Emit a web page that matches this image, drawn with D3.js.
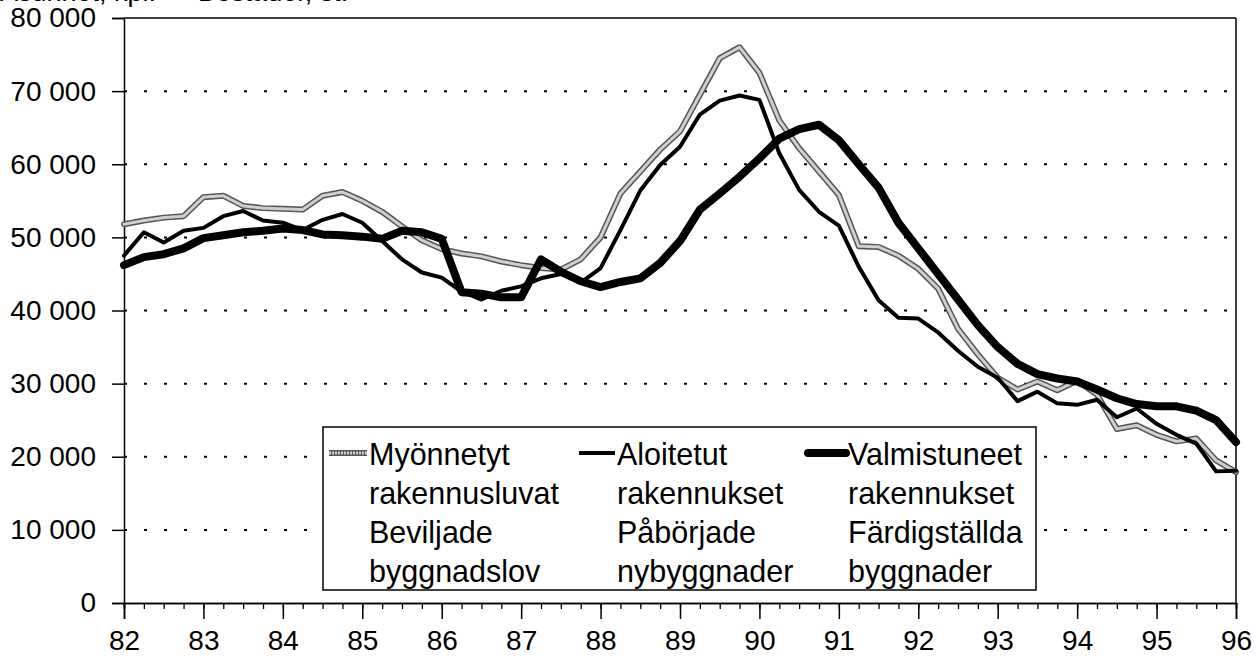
<!DOCTYPE html>
<html>
<head>
<meta charset="utf-8">
<script src="https://cdn.jsdelivr.net/npm/d3@7"></script>
<style>
  html, body { margin: 0; padding: 0; background: #fff; }
  svg { display: block; font-family: "Liberation Sans", Arial, sans-serif; }
</style>
</head>
<body>
<svg id="chart" width="1256" height="659"></svg>
<script>
// ---- data (quarterly, 1982 Q1 .. 1996 Q1) ----
const quarters = d3.range(57).map(i => 82 + i / 4);
const yearTicks = [82, 83, 84, 85, 86, 87, 88, 89, 90, 91, 92, 93, 94, 95, 96];
const yTicks = [0, 10000, 20000, 30000, 40000, 50000, 60000, 70000, 80000];
const titleText = "Asunnot, kpl. — Bostäder, st.";

const permits = [ // Myönnetyt rakennusluvat / Beviljade byggnadslov
  51800, 52300, 52700, 52900, 55500, 55700, 54300, 54000,
  53900, 53800, 55700, 56200, 55000, 53500, 51500, 49600,
  48400, 47800, 47400, 46700, 46200, 45800, 45600, 47000,
  50000, 56000, 59000, 62000, 64500, 69500, 74500, 76000,
  72500, 66000, 62200, 59000, 55800, 48800, 48700, 47500,
  45700, 43000, 37500, 34000, 30800, 29200, 30300, 29100,
  30400, 28500, 23800, 24300, 23000, 22100, 22500, 19500, 17900];
const started = [ // Aloitetut rakennukset / Påbörjade nybyggnader
  47500, 50700, 49300, 50900, 51300, 52900, 53600, 52300,
  52000, 51000, 52400, 53200, 52000, 49500, 47000, 45200,
  44500, 42600, 41500, 42700, 43300, 44400, 45000, 43800,
  45800, 51000, 56400, 59900, 62400, 66800, 68700, 69400,
  68800, 61500, 56500, 53500, 51600, 46000, 41400, 39000,
  38900, 37000, 34500, 32300, 30800, 27600, 28900, 27300,
  27100, 27800, 25400, 26600, 24500, 23000, 21800, 18000, 18100];
const completed = [ // Valmistuneet rakennukset / Färdigställda byggnader
  46200, 47300, 47700, 48500, 49900, 50300, 50700, 50900,
  51200, 51000, 50400, 50300, 50100, 49800, 50900, 50700,
  49800, 42500, 42300, 41800, 41800, 47000, 45300, 44000,
  43200, 43900, 44400, 46500, 49500, 53800, 56000, 58300,
  60800, 63500, 64800, 65400, 63300, 60000, 56800, 52000,
  48500, 45000, 41500, 38000, 35000, 32700, 31300, 30700,
  30300, 29200, 28000, 27200, 26900, 26900, 26300, 25000, 22000];

const legendRows = [
  ["Myönnetyt", "rakennusluvat", "Beviljade", "byggnadslov"],
  ["Aloitetut", "rakennukset", "Påbörjade", "nybyggnader"],
  ["Valmistuneet", "rakennukset", "Färdigställda", "byggnader"]
];

// ---- layout ----
const svg = d3.select("#chart");
const L = 124, R = 1236, T = 18, B = 603;
const x = d3.scaleLinear().domain([82, 96]).range([L, R]);
const y = d3.scaleLinear().domain([0, 80000]).range([B, T]);
const fmt = v => d3.format(",")(v).replace(/,/g, " ");

// title (cut off at top, as in the reference)
svg.append("text").attr("x", 0).attr("y", 1)
  .attr("font-size", 27).attr("fill", "#000").text(titleText);

// gridlines
svg.append("g").selectAll("line")
  .data(yTicks.filter(v => v > 0 && v < 80000))
  .join("line")
  .attr("x1", L).attr("x2", R)
  .attr("y1", d => y(d)).attr("y2", d => y(d))
  .attr("stroke", "#000").attr("stroke-width", 2)
  .attr("stroke-dasharray", "3 17");

// frame top & right
svg.append("line").attr("x1", L).attr("x2", R).attr("y1", T).attr("y2", T)
  .attr("stroke", "#000").attr("stroke-width", 1.5);
svg.append("line").attr("x1", R).attr("x2", R).attr("y1", T).attr("y2", B)
  .attr("stroke", "#000").attr("stroke-width", 1.5);

// y axis
const yAxis = svg.append("g").attr("transform", `translate(${L},0)`)
  .call(d3.axisLeft(y).tickValues(yTicks).tickSize(12).tickPadding(16).tickFormat(fmt));
yAxis.selectAll("text").attr("font-size", 28).attr("fill", "#000")
  .attr("font-family", "Liberation Sans, Arial, sans-serif");
yAxis.selectAll("line").attr("stroke-width", 1.5);
yAxis.select(".domain").attr("stroke-width", 1.5);

// x axis minor ticks
const xMinor = svg.append("g").attr("transform", `translate(0,${B})`)
  .call(d3.axisBottom(x).tickValues(quarters).tickSize(6).tickFormat(""));
xMinor.selectAll("line").attr("stroke-width", 1.3);
xMinor.select(".domain").attr("stroke-width", 1.5);
// x axis major ticks
const xAxis = svg.append("g").attr("transform", `translate(0,${B})`)
  .call(d3.axisBottom(x).tickValues(yearTicks).tickSize(16).tickPadding(11).tickFormat(d => d));
xAxis.selectAll("text").attr("font-size", 28).attr("fill", "#000")
  .attr("font-family", "Liberation Sans, Arial, sans-serif");
xAxis.selectAll("line").attr("stroke-width", 1.5);
xAxis.select(".domain").attr("stroke-width", 1.5);

// lines
const line = d3.line().x((d, i) => x(quarters[i])).y(d => y(d)).curve(d3.curveLinear);
const g = svg.append("g").attr("fill", "none").attr("stroke-linejoin", "round").attr("stroke-linecap", "round");
g.append("path").attr("d", line(permits)).attr("stroke", "#555").attr("stroke-width", 6);
g.append("path").attr("d", line(permits)).attr("stroke", "#cfcfcf").attr("stroke-width", 3)
  .attr("stroke-dasharray", "2 1");
g.append("path").attr("d", line(started)).attr("stroke", "#000").attr("stroke-width", 4);
g.append("path").attr("d", line(completed)).attr("stroke", "#000").attr("stroke-width", 8);

// legend
const lg = svg.append("g");
const boxX = 323, boxY = 427, boxW = 713, boxH = 163;
lg.append("rect").attr("x", boxX).attr("y", boxY).attr("width", boxW).attr("height", boxH)
  .attr("fill", "#fff").attr("stroke", "#000").attr("stroke-width", 1.5);
const colX = [369, 617, 848];
const rowY = [465, 504, 543, 582];
legendRows.forEach((rows, c) => {
  rows.forEach((t, r) => {
    lg.append("text").attr("x", colX[c]).attr("y", rowY[r])
      .attr("font-size", 30.5).attr("fill", "#000").text(t);
  });
});
const symY = 453;
lg.append("line").attr("x1", colX[0] - 40).attr("x2", colX[0] - 2).attr("y1", symY).attr("y2", symY)
  .attr("stroke", "#555").attr("stroke-width", 6);
lg.append("line").attr("x1", colX[0] - 40).attr("x2", colX[0] - 2).attr("y1", symY).attr("y2", symY)
  .attr("stroke", "#cfcfcf").attr("stroke-width", 3).attr("stroke-dasharray", "2 1");
lg.append("line").attr("x1", colX[1] - 38).attr("x2", colX[1] - 2).attr("y1", symY).attr("y2", symY)
  .attr("stroke", "#000").attr("stroke-width", 4);
lg.append("line").attr("x1", colX[2] - 40).attr("x2", colX[2] - 2).attr("y1", symY).attr("y2", symY)
  .attr("stroke", "#000").attr("stroke-width", 8).attr("stroke-linecap", "round");
</script>
</body>
</html>
